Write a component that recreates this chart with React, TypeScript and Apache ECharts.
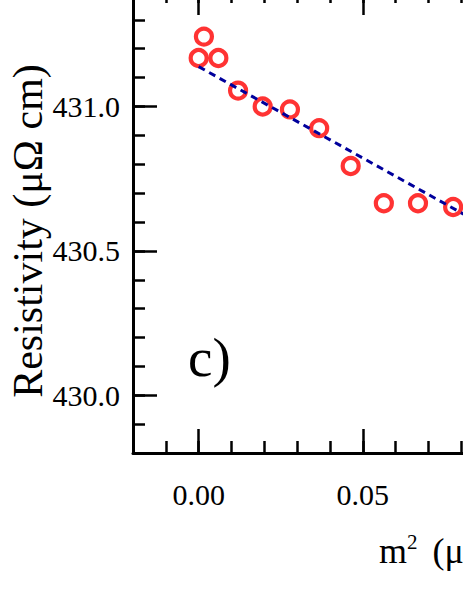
import React, { useEffect, useRef } from "react";
import * as echarts from "echarts";

const mSquared = [0.0016, 0.0, 0.006, 0.012, 0.0195, 0.0278, 0.0367, 0.0463, 0.0564, 0.0668, 0.0775];
const resistivity = [431.242, 431.168, 431.168, 431.055, 431.0, 430.99, 430.925, 430.794, 430.665, 430.665, 430.652];
const fitX = [0.0, 0.1];
const fitY = [431.138, 430.505];
const xMajorTicks = [0.0, 0.05, 0.1];
const xLabelTicks = [0.0, 0.05];
const yMajorTicks = [430.0, 430.5, 431.0];

const FONT = "Liberation Serif";

export default function App() {
  const ref = useRef<HTMLDivElement>(null);
  useEffect(() => {
    if (!ref.current) return;
    const chart = echarts.init(ref.current, undefined, { renderer: "svg" });
    const axisLine = { show: true, onZero: false, lineStyle: { color: "#000", width: 3 } };
    const xBase = { type: "value", min: -0.02, max: 0.1, splitLine: { show: false } };
    const yBase = { type: "value", min: 429.8, max: 431.4, splitLine: { show: false } };
    const option: any = {
      animation: false,
      backgroundColor: "#fff",
      grid: { left: 133, top: -9, width: 394, height: 462, outerBoundsMode: "none" },
      xAxis: [
        {
          ...xBase,
          position: "bottom",
          axisLine,
          axisTick: { show: true, inside: true, length: 24, customValues: xMajorTicks, lineStyle: { color: "#000", width: 2.5 } },
          axisLabel: {
            customValues: xLabelTicks,
            formatter: (v: number) => v.toFixed(2),
            fontFamily: FONT,
            fontSize: 30,
            color: "#000",
            margin: 26,
          },
        },
        {
          ...xBase,
          position: "bottom",
          interval: 0.01,
          axisLine: { show: false, onZero: false },
          axisTick: { show: true, inside: true, length: 12, lineStyle: { color: "#000", width: 2.5 } },
          axisLabel: { show: false },
        },
        {
          ...xBase,
          position: "top",
          axisLine,
          axisTick: { show: true, inside: true, length: 24, customValues: xMajorTicks, lineStyle: { color: "#000", width: 2.5 } },
          axisLabel: { show: false },
        },
        {
          ...xBase,
          position: "top",
          interval: 0.01,
          axisLine: { show: false, onZero: false },
          axisTick: { show: true, inside: true, length: 12, lineStyle: { color: "#000", width: 2.5 } },
          axisLabel: { show: false },
        },
      ],
      yAxis: [
        {
          ...yBase,
          position: "left",
          axisLine,
          axisTick: { show: true, inside: true, length: 24, customValues: yMajorTicks, lineStyle: { color: "#000", width: 2.5 } },
          axisLabel: {
            customValues: yMajorTicks,
            formatter: (v: number) => v.toFixed(1),
            fontFamily: FONT,
            fontSize: 30,
            color: "#000",
            margin: 13,
          },
        },
        {
          ...yBase,
          position: "left",
          interval: 0.1,
          axisLine: { show: false, onZero: false },
          axisTick: { show: true, inside: true, length: 12, lineStyle: { color: "#000", width: 2.5 } },
          axisLabel: { show: false },
        },
      ],
      series: [
        {
          type: "scatter",
          xAxisIndex: 0,
          yAxisIndex: 0,
          data: mSquared.map((x, i) => [x, resistivity[i]]),
          symbol: "circle",
          symbolSize: 16,
          itemStyle: { color: "rgba(0,0,0,0)", borderColor: "#ff0000", borderWidth: 4.2 },
          z: 2,
        },
        {
          type: "line",
          xAxisIndex: 0,
          yAxisIndex: 0,
          data: fitX.map((x, i) => [x, fitY[i]]),
          showSymbol: false,
          lineStyle: { color: "#00009c", width: 3, type: [7, 5] },
          z: 3,
        },
      ],
      graphic: [
        {
          type: "text",
          x: 28,
          y: 231,
          rotation: Math.PI / 2,
          style: {
            text: "Resistivity (μΩ cm)",
            fontFamily: FONT,
            fontSize: 42,
            fill: "#000",
            textAlign: "center",
            textVerticalAlign: "middle",
          },
        },
        {
          type: "text",
          x: 188,
          y: 385,
          style: {
            text: "c)",
            fontFamily: FONT,
            fontSize: 55,
            fill: "#000",
            textAlign: "left",
            textVerticalAlign: "bottom",
          },
        },
        {
          type: "text",
          x: 379,
          y: 550,
          style: {
            text: "{m|m}{sup|2}{m| (μ}{m|B}{sup|2}{m|)}",
            fontFamily: FONT,
            fill: "#000",
            textAlign: "left",
            textVerticalAlign: "middle",
            rich: {
              m: { fontFamily: FONT, fontSize: 36, fill: "#000", verticalAlign: "bottom" },
              sup: { fontFamily: FONT, fontSize: 21, fill: "#000", verticalAlign: "top", padding: [0, 6, 16, 0] },
            },
          },
        },
      ],
    };
    chart.setOption(option);
    return () => chart.dispose();
  }, []);
  return <div ref={ref} style={{ position: "absolute", left: 0, top: 0, width: 463, height: 599 }} />;
}
